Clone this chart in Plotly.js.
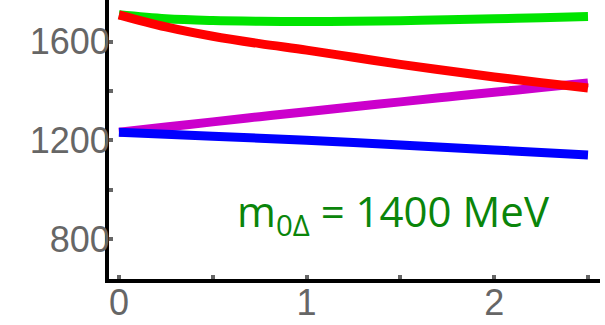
<!DOCTYPE html>
<html>
<head>
<meta charset="utf-8">
<script src="https://cdn.plot.ly/plotly-3.0.1.min.js"></script>
<style>html,body{margin:0;padding:0;background:#fff;}#chart{width:605px;height:325px;}</style>
</head>
<body>
<div id="chart"></div>
<script>
const xs = [0, 0.25, 0.5, 0.75, 1, 1.25, 1.5, 1.75, 2, 2.25, 2.5];
const greenY   = [1709, 1693, 1686, 1683, 1682, 1683, 1685, 1689, 1693, 1697, 1702];
const redY     = [1709, 1660, 1622, 1592, 1566, 1537, 1508, 1482, 1457, 1434, 1412];
const magentaY = [1233, 1254, 1275, 1296, 1316, 1336, 1356, 1376, 1395, 1414, 1433];
const blueY    = [1233, 1225, 1217, 1209, 1200, 1191, 1181, 1171, 1161, 1151, 1141];
const yTickVals = [800, 1000, 1200, 1400, 1600];
const yTickText = ['800', ' ', '1200', ' ', '1600'];
const xTickVals = [0, 0.5, 1, 1.5, 2, 2.5];
const xTickText = ['0', ' ', '1', ' ', '2', ' '];
const label = 'm<sub>0Δ</sub> = 1400 MeV';

function tr(y, color) {
  return {x: xs, y: y, type: 'scatter', mode: 'lines',
          line: {color: color, width: 9, shape: 'spline'}, hoverinfo: 'skip'};
}
const data = [
  tr(greenY, '#00e400'),
  tr(magentaY, '#cc00cc'),
  tr(blueY, '#0000ff'),
  tr(redY, '#ff0000')
];
const tickFont = {family: 'Liberation Sans, Arial, sans-serif', size: 36, color: '#666666'};
const layout = {
  width: 605, height: 325,
  margin: {l: 109, r: 5, t: 0, b: 46, pad: 0},
  paper_bgcolor: '#ffffff', plot_bgcolor: '#ffffff',
  showlegend: false,
  xaxis: {range: [-0.053, 2.564], showgrid: false, zeroline: false,
          showline: true, linecolor: '#000000', linewidth: 4,
          ticks: 'inside', ticklen: 4, tickwidth: 4, tickcolor: '#666666',
          tickmode: 'array', tickvals: xTickVals, ticktext: xTickText,
          tickfont: tickFont, ticklabelstandoff: -11},
  yaxis: {range: [638, 1769], showgrid: false, zeroline: false,
          showline: true, linecolor: '#000000', linewidth: 4,
          ticks: 'inside', ticklen: 4, tickwidth: 4, tickcolor: '#666666',
          tickmode: 'array', tickvals: yTickVals, ticktext: yTickText,
          tickfont: tickFont, ticklabelstandoff: -12},
  annotations: [{
    text: label, xref: 'paper', yref: 'paper', x: 0.58, y: 0.235,
    xanchor: 'center', yanchor: 'middle', showarrow: false,
    font: {family: 'Open Sans, sans-serif', size: 42, color: '#0a850a'}
  }]
};
Plotly.newPlot('chart', data, layout, {displayModeBar: false, staticPlot: true});
</script>
</body>
</html>
